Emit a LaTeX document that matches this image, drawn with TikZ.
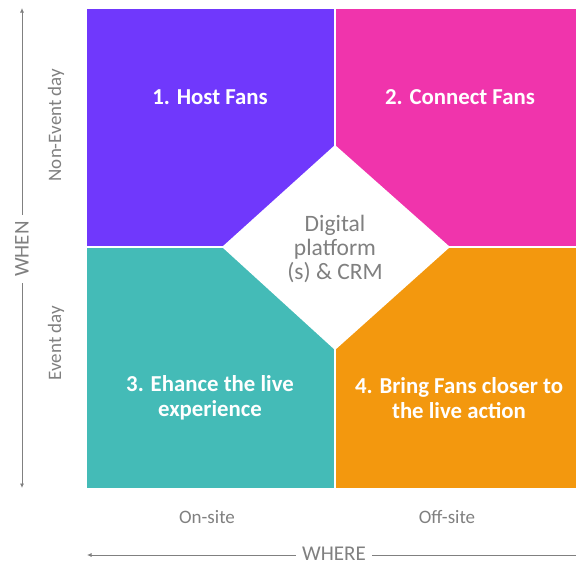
\documentclass[tikz,border=0pt]{standalone}
\usepackage{fontspec}
\setmainfont{Carlito}
\usetikzlibrary{arrows.meta, positioning}

\definecolor{hostpurple}{RGB}{112,56,252}
\definecolor{connectpink}{RGB}{240,52,172}
\definecolor{liveteal}{RGB}{68,187,183}
\definecolor{actionorange}{RGB}{243,152,14}
\definecolor{labelgray}{RGB}{128,128,128}

\begin{document}
\begin{tikzpicture}[
    x=1pt, y=-1pt,
    quad/.style={draw=white, line width=1pt},
    title/.style={text=white, font=\bfseries\fontsize{22.8}{24.5}\selectfont, align=center},
    axislabel/.style={text=labelgray, font=\fontsize{19}{22}\selectfont},
    axisname/.style={text=labelgray, font=\fontsize{21}{24}\selectfont, fill=white},
    axis/.style={draw=labelgray, line width=0.8pt, >={Latex[length=4.5pt, width=4pt]}}
]
    \useasboundingbox (0,0) rectangle (576,565);

    % Quadrants
    \fill [quad, fill=hostpurple] (86,8) rectangle (335,247);
    \fill [quad, fill=connectpink] (335,8) rectangle (580,247);
    \fill [quad, fill=liveteal] (86,247) rectangle (335,488);
    \fill [quad, fill=actionorange] (335,247) rectangle (580,488);
    \draw [white, line width=1.2pt] (335,8) -- (335,488);
    \draw [white, line width=1.2pt] (86,247) -- (580,247);

    % Quadrant titles
    \node [title] (host) at (210,97) {1. Host Fans};
    \node [title] (connect) at (460,97) {2. Connect Fans};
    \node [title] (live) at (210,398) {3. Ehance the live\\experience};
    \node [title] (action) at (459,398) {4. Bring Fans closer to\\the live action};

    % Centre diamond
    \fill [white] (222,247) -- (335,145) -- (450,247) -- (335,350) -- cycle;
    \node [text=labelgray, font=\fontsize{23.5}{24}\selectfont, align=center] (platform) at (335,249) {Digital\\platform\\(s) \& CRM};

    % WHEN axis
    \draw [axis, <->] (22,8) -- (22,488);
    \node [axisname, rotate=90, inner sep=6pt] (when) at (22,249) {WHEN};
    \node [axislabel, rotate=90] (nonevent) at (56,125) {Non-Event day};
    \node [axislabel, rotate=90] (eventday) at (56,343) {Event day};

    % WHERE axis
    \draw [axis, <-] (87,555) -- (580,555);
    \node [axisname, inner sep=6pt] (where) at (334,554) {WHERE};
    \node [axislabel] (onsite) at (207,517) {On-site};
    \node [axislabel] (offsite) at (447,517) {Off-site};

\end{tikzpicture}
\end{document}
